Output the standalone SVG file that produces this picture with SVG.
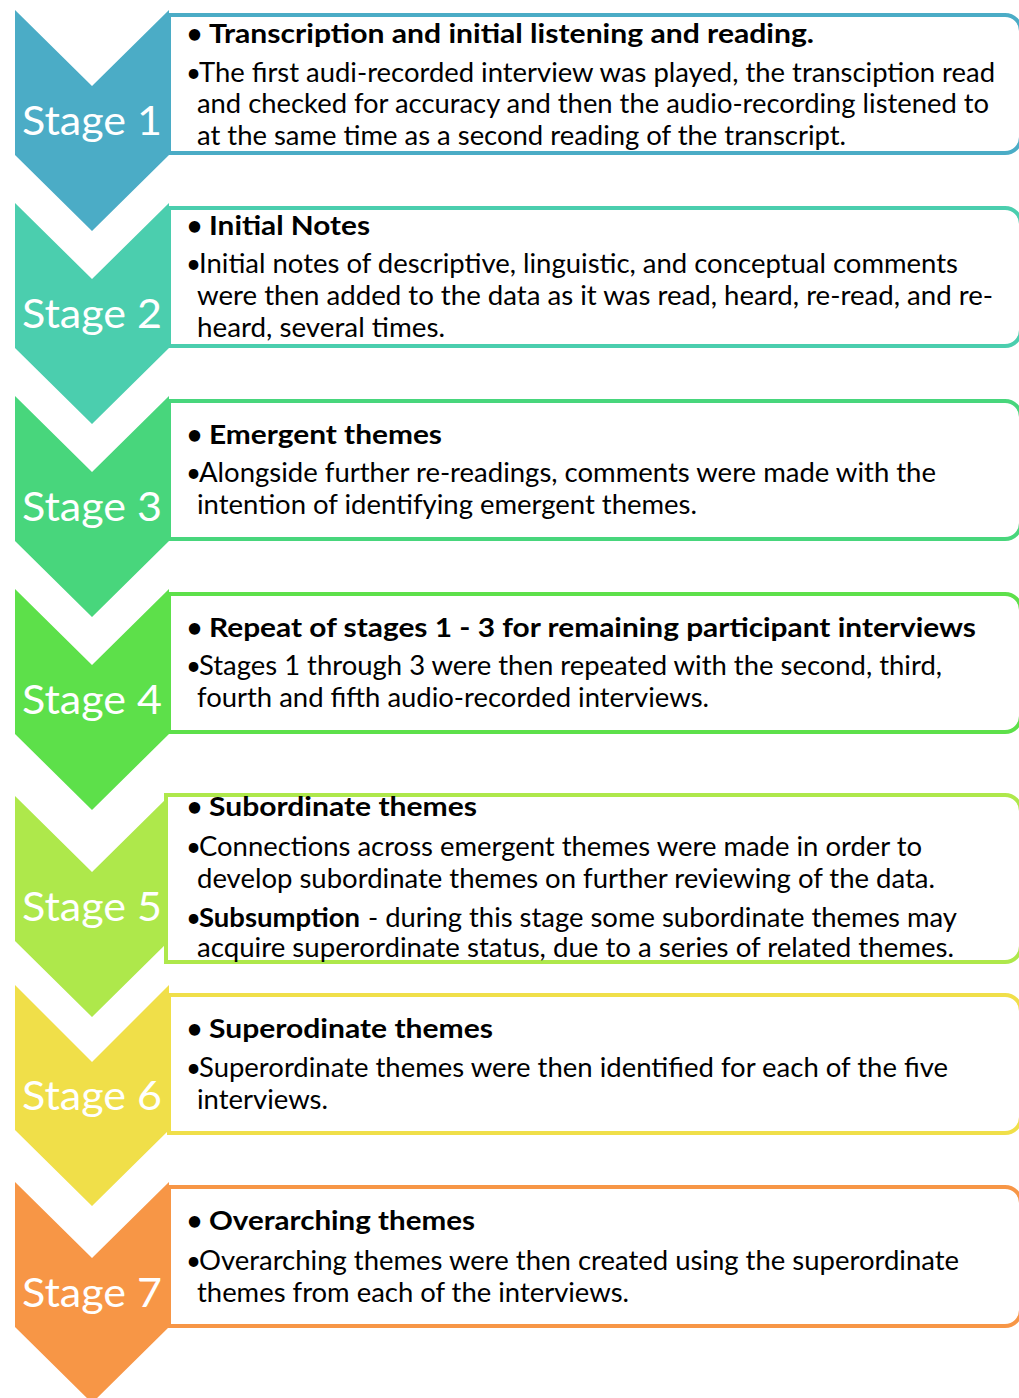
<svg xmlns="http://www.w3.org/2000/svg" width="1019" height="1398" viewBox="0 0 1019 1398">
<style>
  text { font-family: Lato, "Open Sans", "Liberation Sans", sans-serif; font-size: 26px; fill: #000; }
  .hd { font-weight: bold; }
  .lbl { font-size: 40px; fill: #fff; }
  .box { fill: #fff; stroke-width: 4; }
</style>
<rect width="1019" height="1398" fill="#fff"/>

<g id="stage1">
  <polygon points="15,10 92,86 169,10 169,155 92,231 15,155" fill="#4BACC6"/>
  <path class="box" stroke="#4BACC6" d="M169,15 H1005 A16,16 0 0 1 1021,31 V137 A16,16 0 0 1 1005,153 H169 Z"/>
  <text class="lbl" x="22" y="135" textLength="140" lengthAdjust="spacingAndGlyphs">Stage 1</text>
  <text class="hd" x="187" y="43">•</text>
  <text class="hd" x="209" y="43" textLength="605" lengthAdjust="spacingAndGlyphs">Transcription and initial listening and reading.</text>
  <text x="186" y="82">•</text>
  <text x="199" y="82" textLength="796" lengthAdjust="spacingAndGlyphs">The first audi-recorded interview was played, the transciption read</text>
  <text x="197" y="113" textLength="792" lengthAdjust="spacingAndGlyphs">and checked for accuracy and then the audio-recording listened to</text>
  <text x="197" y="145" textLength="649" lengthAdjust="spacingAndGlyphs">at the same time as a second reading of the transcript.</text>
</g>

<g id="stage2">
  <polygon points="15,203 92,279 169,203 169,348 92,424 15,348" fill="#4BCEAE"/>
  <path class="box" stroke="#4BCEAE" d="M169,208 H1005 A16,16 0 0 1 1021,224 V330 A16,16 0 0 1 1005,346 H169 Z"/>
  <text class="lbl" x="22" y="328" textLength="140" lengthAdjust="spacingAndGlyphs">Stage 2</text>
  <text class="hd" x="187" y="235">•</text>
  <text class="hd" x="209" y="235" textLength="161" lengthAdjust="spacingAndGlyphs">Initial Notes</text>
  <text x="186" y="273">•</text>
  <text x="199" y="273" textLength="759" lengthAdjust="spacingAndGlyphs">Initial notes of descriptive, linguistic, and conceptual comments</text>
  <text x="197" y="305" textLength="796" lengthAdjust="spacingAndGlyphs">were then added to the data as it was read, heard, re-read, and re-</text>
  <text x="197" y="337" textLength="248" lengthAdjust="spacingAndGlyphs">heard, several times.</text>
</g>

<g id="stage3">
  <polygon points="15,396 92,472 169,396 169,541 92,617 15,541" fill="#48D67C"/>
  <path class="box" stroke="#48D67C" d="M169,401 H1005 A16,16 0 0 1 1021,417 V523 A16,16 0 0 1 1005,539 H169 Z"/>
  <text class="lbl" x="22" y="521" textLength="140" lengthAdjust="spacingAndGlyphs">Stage 3</text>
  <text class="hd" x="187" y="444">•</text>
  <text class="hd" x="209" y="444" textLength="233" lengthAdjust="spacingAndGlyphs">Emergent themes</text>
  <text x="186" y="482">•</text>
  <text x="199" y="482" textLength="737" lengthAdjust="spacingAndGlyphs">Alongside further re-readings, comments were made with the</text>
  <text x="197" y="514" textLength="500" lengthAdjust="spacingAndGlyphs">intention of identifying emergent themes.</text>
</g>

<g id="stage4">
  <polygon points="15,589 92,665 169,589 169,734 92,810 15,734" fill="#5DE04A"/>
  <path class="box" stroke="#5DE04A" d="M169,594 H1005 A16,16 0 0 1 1021,610 V716 A16,16 0 0 1 1005,732 H169 Z"/>
  <text class="lbl" x="22" y="714" textLength="140" lengthAdjust="spacingAndGlyphs">Stage 4</text>
  <text class="hd" x="187" y="637">•</text>
  <text class="hd" x="209" y="637" textLength="767" lengthAdjust="spacingAndGlyphs">Repeat of stages 1 - 3 for remaining participant interviews</text>
  <text x="186" y="675">•</text>
  <text x="199" y="675" textLength="743" lengthAdjust="spacingAndGlyphs">Stages 1 through 3 were then repeated with the second, third,</text>
  <text x="197" y="707" textLength="512" lengthAdjust="spacingAndGlyphs">fourth and fifth audio-recorded interviews.</text>
</g>

<g id="stage5">
  <polygon points="15,796 92,872 169,796 169,941 92,1017 15,941" fill="#AEE84B"/>
  <path class="box" stroke="#AEE84B" d="M166,795 H1005 A16,16 0 0 1 1021,811 V946 A16,16 0 0 1 1005,962 H166 Z"/>
  <text class="lbl" x="22" y="921" textLength="140" lengthAdjust="spacingAndGlyphs">Stage 5</text>
  <text class="hd" x="187" y="816">•</text>
  <text class="hd" x="209" y="816" textLength="268" lengthAdjust="spacingAndGlyphs">Subordinate themes</text>
  <text x="186" y="856">•</text>
  <text x="199" y="856" textLength="723" lengthAdjust="spacingAndGlyphs">Connections across emergent themes were made in order to</text>
  <text x="197" y="888" textLength="738" lengthAdjust="spacingAndGlyphs">develop subordinate themes on further reviewing of the data.</text>
  <text x="186" y="927">•</text>
  <text class="hd" x="199" y="927" textLength="161" lengthAdjust="spacingAndGlyphs">Subsumption</text>
  <text x="368" y="927" textLength="589" lengthAdjust="spacingAndGlyphs">- during this stage some subordinate themes may</text>
  <text x="197" y="957" textLength="757" lengthAdjust="spacingAndGlyphs">acquire superordinate status, due to a series of related themes.</text>
</g>

<g id="stage6">
  <polygon points="15,985 92,1062 169,985 169,1130 92,1206 15,1130" fill="#F0DF49"/>
  <path class="box" stroke="#F0DF49" d="M169,995 H1005 A16,16 0 0 1 1021,1011 V1117 A16,16 0 0 1 1005,1133 H169 Z"/>
  <text class="lbl" x="22" y="1110" textLength="140" lengthAdjust="spacingAndGlyphs">Stage 6</text>
  <text class="hd" x="187" y="1038">•</text>
  <text class="hd" x="209" y="1038" textLength="284" lengthAdjust="spacingAndGlyphs">Superodinate themes</text>
  <text x="186" y="1077">•</text>
  <text x="199" y="1077" textLength="749" lengthAdjust="spacingAndGlyphs">Superordinate themes were then identified for each of the five</text>
  <text x="197" y="1109" textLength="131" lengthAdjust="spacingAndGlyphs">interviews.</text>
</g>

<g id="stage7">
  <polygon points="15,1182 92,1258 169,1182 169,1327 92,1403 15,1327" fill="#F79646"/>
  <path class="box" stroke="#F79646" d="M169,1187 H1005 A16,16 0 0 1 1021,1203 V1310 A16,16 0 0 1 1005,1326 H169 Z"/>
  <text class="lbl" x="22" y="1307" textLength="140" lengthAdjust="spacingAndGlyphs">Stage 7</text>
  <text class="hd" x="187" y="1230">•</text>
  <text class="hd" x="209" y="1230" textLength="266" lengthAdjust="spacingAndGlyphs">Overarching themes</text>
  <text x="186" y="1270">•</text>
  <text x="199" y="1270" textLength="760" lengthAdjust="spacingAndGlyphs">Overarching themes were then created using the superordinate</text>
  <text x="197" y="1302" textLength="432" lengthAdjust="spacingAndGlyphs">themes from each of the interviews.</text>
</g>

<g id="connectors"></g>
</svg>
